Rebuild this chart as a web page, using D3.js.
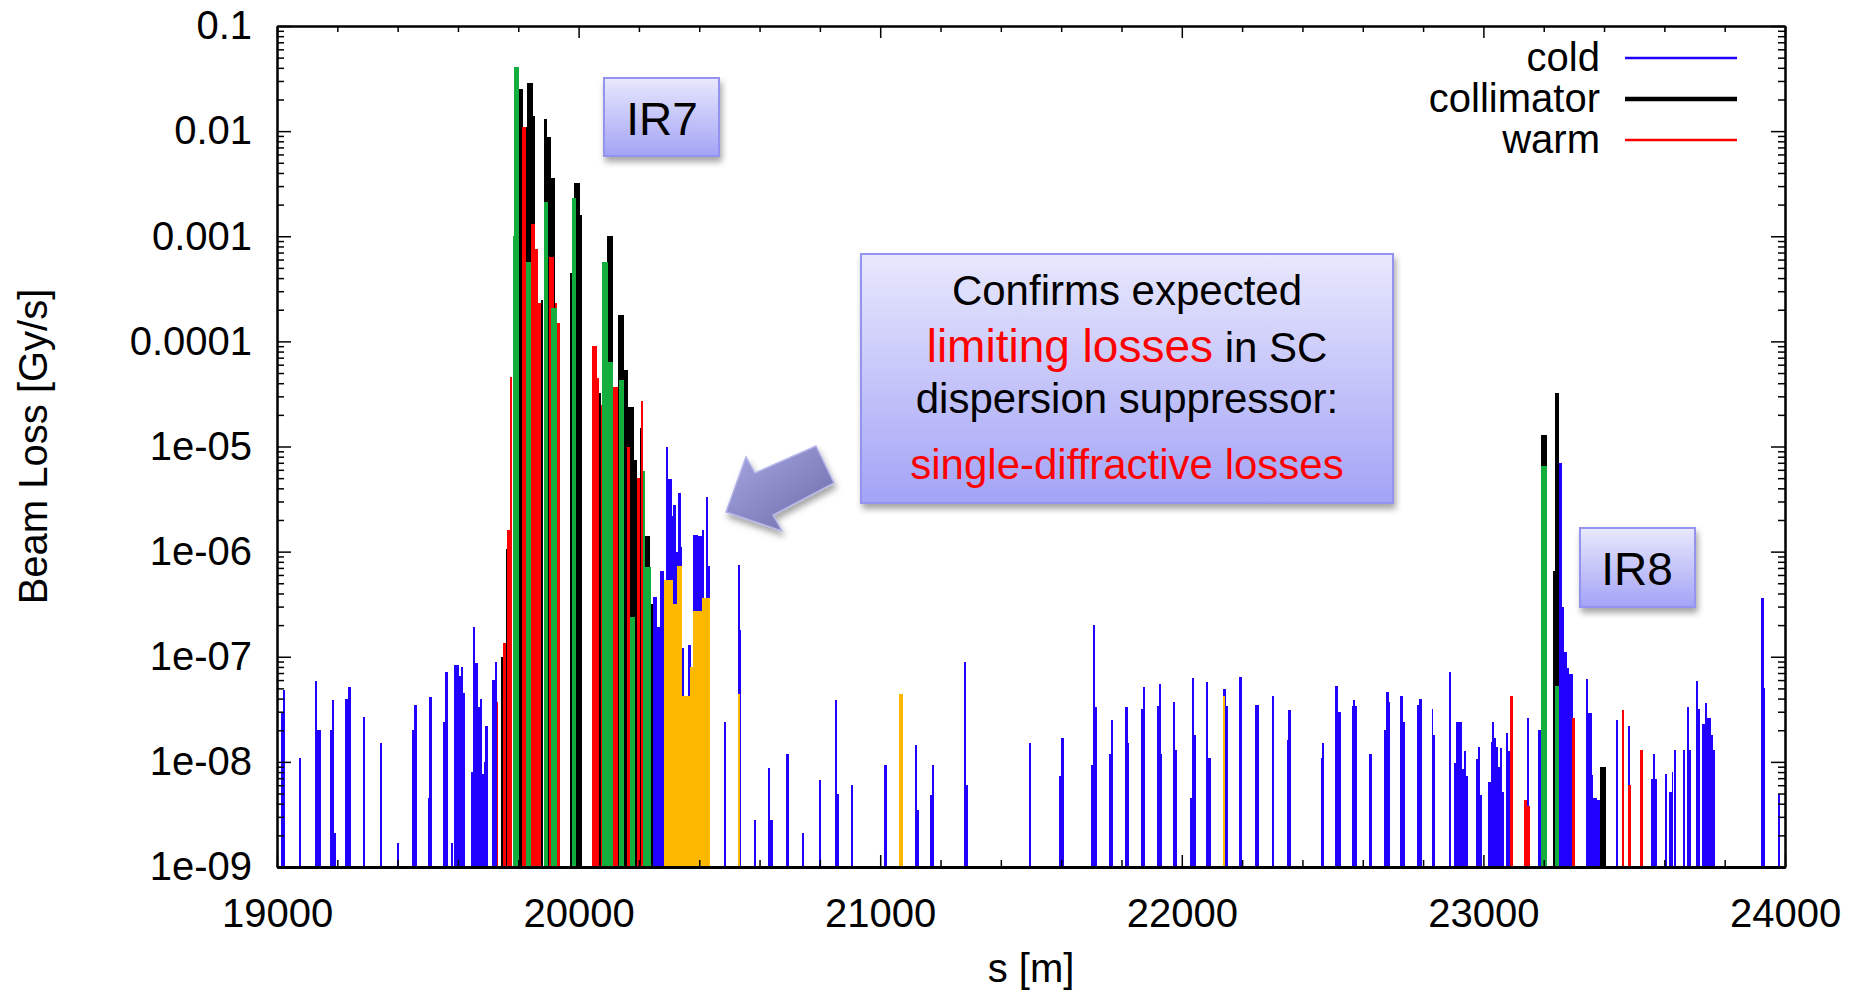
<!DOCTYPE html>
<html>
<head>
<meta charset="utf-8">
<script src="https://cdn.jsdelivr.net/npm/d3@7"></script>
<style>
  body { margin: 0; background: #fff; }
  text { font-family: "Liberation Sans", Arial, Helvetica, sans-serif; }
</style>
</head>
<body>
<svg id="canvas" width="1862" height="991"></svg>
<script>
// loss map along the ring, every entry is [s start (m), s end (m), loss (Gy/s)]
var coldLosses = [
  [19012,19020,3e-8],[19020,19028,4.8e-8],[19073,19080,1.1e-8],
  [19127,19133,5.9e-8],[19133,19146,2e-8],
  [19177,19183,2e-8],[19183,19189,3.9e-8],[19189,19195,2.1e-9],
  [19227,19234,4e-8],[19234,19244,5.2e-8],[19284,19292,2.7e-8],[19342,19348,1.5e-8],[19397,19405,1.7e-9],
  [19449,19455,2e-8],[19455,19463,3.5e-8],[19500,19505,4.5e-9],[19505,19513,4.1e-8],
  [19550,19557,2.4e-8],[19557,19566,7.2e-8],[19577,19584,1.7e-9],
  [19588,19602,8.3e-8],[19602,19610,6.6e-8],[19610,19617,8e-8],[19617,19624,4.5e-8],
  [19644,19650,8e-9],[19650,19658,1.9e-7],[19658,19665,8.7e-8],[19665,19673,3.3e-8],[19673,19679,4e-8],
  [19679,19685,7.6e-9],[19685,19691,1e-8],[19691,19700,2.2e-8],[19714,19722,6e-8],[19722,19730,8.9e-8],
  [20248,20261,3.7e-7],[20261,20270,1.9e-7],[20270,20283,6.6e-7],
  [20290,20297,1e-5],[20297,20309,4.9e-6],[20309,20314,2.2e-6],[20314,20323,2.8e-6],[20323,20331,1e-6],
  [20331,20338,3.6e-6],[20338,20344,1.1e-6],[20344,20350,1.2e-7],[20364,20372,1.3e-7],
  [20380,20397,1.45e-6],[20397,20410,1.4e-6],[20410,20416,1.6e-6],[20421,20430,3.3e-6],[20430,20436,7.3e-7],
  [20483,20490,2.4e-8],[20527,20534,7.4e-7],[20534,20539,1.8e-7],[20583,20589,2.8e-9],
  [20629,20635,8.7e-9],[20635,20643,2.8e-9],[20689,20697,1.2e-8],[20742,20748,2.1e-9],[20797,20805,6.7e-9],
  [20850,20858,3.9e-8],[20858,20863,5e-9],[20902,20909,6e-9],[21012,21021,9.3e-9],
  [21115,21123,1.45e-8],[21123,21129,3.5e-9],[21166,21171,4.8e-9],[21171,21180,9.3e-9],
  [21277,21286,8.9e-8],[21286,21292,6e-9],[21492,21500,1.5e-8],[21592,21600,7.4e-9],[21600,21610,1.7e-8],
  [21700,21707,9.3e-9],[21707,21713,2e-7],[21713,21719,3.3e-8],[21757,21764,1.2e-8],[21764,21772,2.5e-8],
  [21811,21820,3.3e-8],[21820,21826,1.5e-8],[21865,21871,3.2e-8],[21871,21878,5.2e-8],
  [21917,21924,3.4e-8],[21924,21930,5.5e-8],[21930,21936,1.2e-8],[21971,21979,3.7e-8],[21979,21984,1.3e-8],
  [22028,22034,4.5e-9],[22034,22040,6.3e-8],[22040,22046,1.8e-8],[22081,22088,5.8e-8],[22088,22096,1.1e-8],
  [22138,22146,4.9e-8],[22146,22152,3.4e-8],[22191,22199,6.4e-8],[22242,22255,3.5e-8],[22299,22307,4.2e-8],
  [22348,22353,1.6e-8],[22353,22362,3.1e-8],[22460,22466,1.1e-8],[22466,22473,1.5e-8],
  [22509,22517,5.3e-8],[22517,22527,3e-8],[22563,22567,3.4e-8],[22567,22573,3.9e-8],[22573,22580,3.4e-8],
  [22622,22630,1.2e-8],[22672,22678,2e-8],[22678,22686,4.6e-8],[22686,22691,3.7e-8],
  [22725,22733,4.2e-8],[22733,22740,2.4e-8],[22780,22787,3.5e-8],[22787,22795,4e-8],
  [22828,22834,3.2e-8],[22834,22841,1.8e-8],[22885,22893,7.2e-8],
  [22904,22908,9.8e-9],[22908,22928,2.4e-8],[22928,22936,8.6e-9],[22936,22942,1.27e-8],[22942,22950,7.3e-9],
  [22975,22981,1.07e-8],[22981,22989,1.4e-8],[22989,22996,4.8e-9],
  [23016,23024,6.4e-9],[23024,23029,1.55e-8],[23029,23036,2.4e-8],[23036,23042,1.7e-8],[23042,23047,1.4e-8],
  [23047,23055,8.9e-9],[23055,23061,1.35e-8],[23061,23068,5.2e-9],[23074,23080,1.9e-8],[23080,23088,1.27e-8],
  [23145,23152,2.6e-8],[23180,23190,2e-8],
  [23252,23260,6.9e-6],[23260,23268,3e-7],[23268,23276,1.1e-7],[23276,23285,7.9e-8],[23285,23296,6.8e-8],
  [23339,23348,6.2e-8],[23348,23359,2.9e-8],[23359,23365,7.5e-9],[23365,23376,4.5e-9],[23376,23387,4.3e-9],
  [23439,23447,2.5e-8],[23479,23487,2.2e-8],[23555,23562,6.9e-9],[23562,23570,1.2e-8],[23570,23575,6.9e-9],
  [23602,23610,7.6e-9],[23616,23624,5.2e-9],[23624,23629,8e-9],[23631,23640,1.3e-8],
  [23663,23670,1.3e-8],[23674,23682,3.3e-8],[23682,23685,1.3e-8],
  [23704,23711,5.9e-8],[23711,23718,3.2e-8],[23724,23735,2.3e-8],[23735,23742,3.6e-8],[23742,23753,2.6e-8],
  [23753,23762,1.8e-8],[23762,23769,1.3e-8],[23922,23930,3.6e-7],[23930,23935,5e-8],[23977,23985,5e-9]
];

var collimatorLosses = [
  [19743,19748,1e-7],[19759,19765,1.07e-6],
  [19802,19817,0.0254],[19824,19831,0.011],[19828,19848,0.029],[19848,19856,0.0138],
  [19875,19881,2.5e-4],[19886,19895,0.013],[19895,19908,0.0087],[19908,19922,3.6e-3],
  [19970,19983,4.5e-4],[19985,20003,3.2e-3],[20003,20011,1.6e-3],[20066,20073,3.2e-5],
  [20094,20113,1e-3],[20132,20151,1.8e-4],[20151,20165,5.4e-5],[20162,20184,2.4e-5],
  [20184,20195,7.4e-6],[20202,20213,1.5e-5],[20221,20237,1.4e-6],[20240,20248,3.2e-7],
  [23191,23210,1.3e-5],[23232,23238,6.5e-7],[23238,23252,3.2e-5],[23387,23405,8.9e-9]
];

var warmLosses = [
  [19728,19732,3.7e-8],[19750,19759,1.35e-7],[19763,19773,1.6e-6],[19773,19779,4.6e-5],
  [19811,19824,0.011],[19843,19856,1.3e-3],[19856,19867,7.5e-4],[19867,19875,2.3e-4],
  [19903,19917,6.3e-4],[19922,19929,2.3e-4],[19929,19939,1.5e-4],
  [20046,20060,9.1e-5],[20060,20066,4.5e-5],[20073,20077,2.5e-5],[20113,20132,3.7e-5],
  [20160,20169,1e-5],[20195,20202,5e-6],[20206,20215,2.7e-5],
  [23088,23097,4.2e-8],[23134,23143,4.3e-9],[23143,23154,3.8e-9],[23295,23304,2.6e-8],
  [23459,23467,3.1e-8],[23481,23489,6e-9],[23519,23528,1.3e-8]
];

// highlighted collimator losses (green) and single-diffractive losses (orange)
var greenLosses = [
  [19782,19786,1e-3],[19786,19802,0.041],[19824,19842,5.7e-4],[19884,19900,2.1e-3],
  [19909,19928,2.1e-4],[19977,19992,2.3e-3],[20077,20096,5.7e-4],[20096,20113,6.3e-5],
  [20133,20151,4.3e-5],[20171,20188,2.4e-7],[20213,20221,5.8e-6],[20221,20240,7.2e-7],
  [23191,23210,6.5e-6],[23236,23252,5.3e-8]
];

var orangeLosses = [
  [20283,20314,5.4e-7],[20314,20327,3.2e-7],[20327,20342,7.3e-7],[20342,20369,4.2e-8],
  [20369,20380,8e-8],[20380,20409,2.7e-7],[20409,20436,3.6e-7],
  [20528,20535,4.4e-8],[21062,21074,4.4e-8],[22136,22144,4.2e-8]
];

var xTicks = [19000, 20000, 21000, 22000, 23000, 24000];
var xTickLabels = ["19000", "20000", "21000", "22000", "23000", "24000"];
var yTicks = [1e-9, 1e-8, 1e-7, 1e-6, 1e-5, 1e-4, 1e-3, 1e-2, 1e-1];
var yTickLabels = ["1e-09", "1e-08", "1e-07", "1e-06", "1e-05", "0.0001", "0.001", "0.01", "0.1"];
var legendNames = ["cold", "collimator", "warm"];

var colors = { cold: "#2000ff", collimator: "#000000", warm: "#ff0000", green: "#13ae3d", orange: "#ffb800" };

var svg = d3.select("#canvas");
var plotLeft = 277, plotRight = 1785, plotTop = 26, plotBottom = 867;

var x = d3.scaleLinear().domain([19000, 24000]).range([plotLeft, plotRight]);
var y = d3.scaleLog().domain([1e-9, 0.1]).range([plotBottom, plotTop]);

// defs: gradients and shadow for the slide annotations
var defs = svg.append("defs");
var boxGrad = defs.append("linearGradient").attr("id", "boxGrad").attr("x1", 0).attr("y1", 0).attr("x2", 0).attr("y2", 1);
boxGrad.append("stop").attr("offset", "0%").attr("stop-color", "#e8e8fd");
boxGrad.append("stop").attr("offset", "100%").attr("stop-color", "#a3a3f6");
var arrowGrad = defs.append("linearGradient").attr("id", "arrowGrad").attr("x1", 0).attr("y1", 0).attr("x2", 1).attr("y2", 1);
arrowGrad.append("stop").attr("offset", "0%").attr("stop-color", "#a8a8e4");
arrowGrad.append("stop").attr("offset", "100%").attr("stop-color", "#6a6aa6");
var shadow = defs.append("filter").attr("id", "shadow").attr("x", "-20%").attr("y", "-20%").attr("width", "140%").attr("height", "150%");
shadow.append("feDropShadow").attr("dx", 2).attr("dy", 5).attr("stdDeviation", 3)
  .attr("flood-color", "#000").attr("flood-opacity", 0.35);

function drawBars(data, color) {
  svg.append("g")
    .selectAll("rect")
    .data(data)
    .enter()
    .append("rect")
    .attr("x", function(d) { return x(d[0]); })
    .attr("width", function(d) { return Math.max(x(d[1]) - x(d[0]), 1.5); })
    .attr("y", function(d) { return y(d[2]); })
    .attr("height", function(d) { return y(1e-9) - y(d[2]); })
    .attr("fill", color)
    .attr("shape-rendering", "crispEdges");
}

// order matters: later series are drawn on top
drawBars(coldLosses, colors.cold);
drawBars(collimatorLosses, colors.collimator);
drawBars(warmLosses, colors.warm);
drawBars(greenLosses, colors.green);
drawBars(orangeLosses, colors.orange);

// axes, gnuplot style: ticks point inwards on all four sides
var yMinor = y.ticks().filter(function(d) { return yTicks.indexOf(d) < 0; });
var xMinor = d3.range(19000, 24001, 200).filter(function(d) { return xTicks.indexOf(d) < 0; });

function styleAxis(g, width) {
  g.attr("font-size", 40).attr("font-family", "'Liberation Sans', Arial, sans-serif");
  g.select(".domain").attr("stroke", "#000").attr("stroke-width", width);
  g.selectAll(".tick line").attr("stroke", "#000").attr("stroke-width", 1.5);
  g.selectAll(".tick text").attr("fill", "#000");
}

svg.append("g").attr("transform", "translate(0," + plotBottom + ")")
  .call(d3.axisBottom(x).tickValues(xMinor).tickFormat("").tickSizeInner(-7).tickSizeOuter(0))
  .call(styleAxis, 3);
svg.append("g").attr("transform", "translate(0," + plotBottom + ")")
  .call(d3.axisBottom(x).tickValues(xTicks).tickFormat(function(d, i) { return xTickLabels[i]; })
    .tickSizeInner(-12).tickSizeOuter(0).tickPadding(32))
  .call(styleAxis, 3);
svg.append("g").attr("transform", "translate(0," + plotTop + ")")
  .call(d3.axisTop(x).tickValues(xMinor).tickFormat("").tickSizeInner(-6).tickSizeOuter(0))
  .call(styleAxis, 2);
svg.append("g").attr("transform", "translate(0," + plotTop + ")")
  .call(d3.axisTop(x).tickValues(xTicks).tickFormat("").tickSizeInner(-12).tickSizeOuter(0))
  .call(styleAxis, 2);

svg.append("g").attr("transform", "translate(" + plotLeft + ",0)")
  .call(d3.axisLeft(y).tickValues(yMinor).tickFormat("").tickSizeInner(-7).tickSizeOuter(0))
  .call(styleAxis, 2);
svg.append("g").attr("transform", "translate(" + plotLeft + ",0)")
  .call(d3.axisLeft(y).tickValues(yTicks).tickFormat(function(d, i) { return yTickLabels[i]; })
    .tickSizeInner(-14).tickSizeOuter(0).tickPadding(25))
  .call(styleAxis, 2);
svg.append("g").attr("transform", "translate(" + plotRight + ",0)")
  .call(d3.axisRight(y).tickValues(yMinor).tickFormat("").tickSizeInner(-7).tickSizeOuter(0))
  .call(styleAxis, 2);
svg.append("g").attr("transform", "translate(" + plotRight + ",0)")
  .call(d3.axisRight(y).tickValues(yTicks).tickFormat("").tickSizeInner(-14).tickSizeOuter(0))
  .call(styleAxis, 2);

// axis titles
svg.append("text")
  .attr("transform", "translate(33," + ((plotTop + plotBottom) / 2) + ") rotate(-90)")
  .attr("text-anchor", "middle")
  .attr("dominant-baseline", "central")
  .attr("font-size", 40)
  .text("Beam Loss [Gy/s]");
svg.append("text")
  .attr("x", (plotLeft + plotRight) / 2)
  .attr("y", 982)
  .attr("text-anchor", "middle")
  .attr("font-size", 40)
  .text("s [m]");

// legend
var legendWidths = [2.5, 4.5, 2.5];
var legend = svg.append("g").selectAll("g")
  .data(legendNames)
  .enter()
  .append("g")
  .attr("transform", function(d, i) { return "translate(0," + (71 + i * 41) + ")"; });
legend.append("text")
  .attr("x", 1600)
  .attr("text-anchor", "end")
  .attr("font-size", 40)
  .text(function(d) { return d; });
legend.append("line")
  .attr("x1", 1625).attr("x2", 1737)
  .attr("y1", -13).attr("y2", -13)
  .attr("stroke", function(d) { return colors[d]; })
  .attr("stroke-width", function(d, i) { return legendWidths[i]; });

// slide annotations
function labelBox(x0, y0, w, h) {
  svg.append("rect")
    .attr("x", x0).attr("y", y0).attr("width", w).attr("height", h)
    .attr("fill", "url(#boxGrad)")
    .attr("stroke", "#9494f0")
    .attr("stroke-width", 2)
    .attr("filter", "url(#shadow)");
}

labelBox(604, 78, 115, 78);
svg.append("text").attr("x", 662).attr("y", 135).attr("text-anchor", "middle").attr("font-size", 46).text("IR7");

labelBox(1580, 528, 115, 79);
svg.append("text").attr("x", 1637).attr("y", 585).attr("text-anchor", "middle").attr("font-size", 46).text("IR8");

labelBox(861, 254, 532, 249);
var note = svg.append("g").attr("font-size", 42).attr("text-anchor", "middle");
note.append("text").attr("x", 1127).attr("y", 305).text("Confirms expected");
var line2 = note.append("text").attr("x", 1127).attr("y", 362);
line2.append("tspan").attr("fill", "#ff0000").attr("font-size", 46).text("limiting losses");
line2.append("tspan").attr("fill", "#000").text(" in SC");
note.append("text").attr("x", 1127).attr("y", 413).text("dispersion suppressor:");
note.append("text").attr("x", 1127).attr("y", 479).attr("fill", "#ff0000").text("single-diffractive losses");

// block arrow pointing at the dispersion suppressor losses
var arrowPts = [[726, 512], [746, 457], [755, 473], [816, 446], [834, 483], [773, 515], [782, 531]];
svg.append("polygon")
  .attr("points", arrowPts.map(function(p) { return p.join(","); }).join(" "))
  .attr("fill", "url(#arrowGrad)")
  .attr("stroke", "#b4b4ea")
  .attr("stroke-width", 1.5)
  .attr("filter", "url(#shadow)");
</script>
</body>
</html>
